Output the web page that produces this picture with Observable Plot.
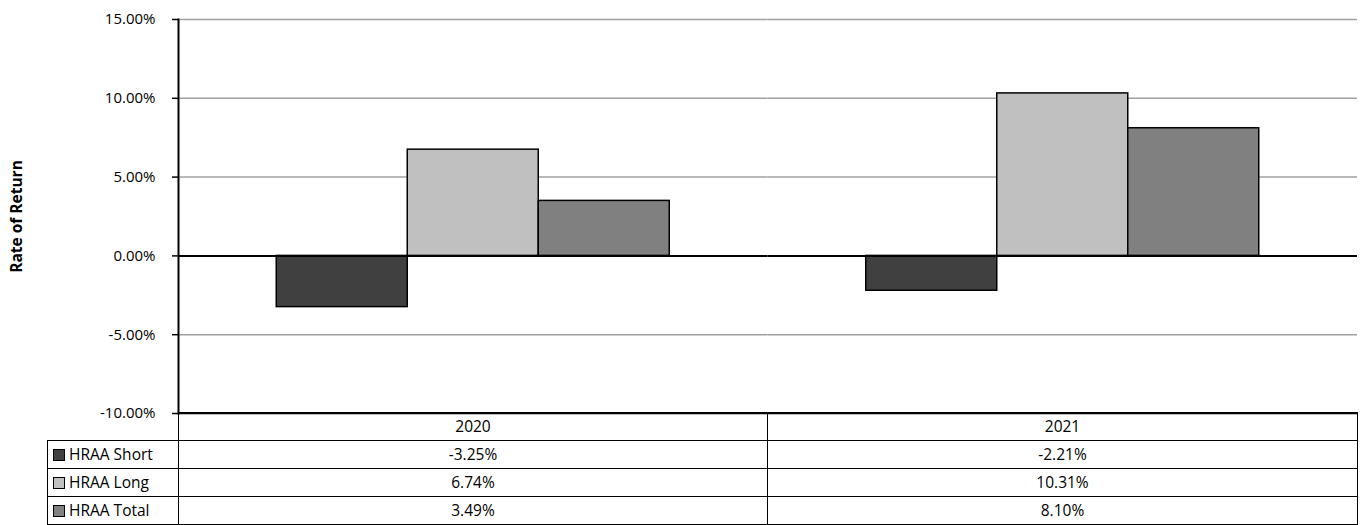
<!DOCTYPE html>
<html>
<head>
<meta charset="utf-8">
<script src="https://cdn.jsdelivr.net/npm/d3@7"></script>
<script src="https://cdn.jsdelivr.net/npm/@observablehq/plot@0.6"></script>
<style>
  html, body { margin: 0; padding: 0; background: #fff; }
  body { font-family: "Open Sans", sans-serif; }
  #wrap { position: relative; width: 1362px; height: 525px; overflow: hidden; }
  #wrap svg { position: absolute; left: 0; top: 0; }
  g[aria-label="y-axis label"] text { font-weight: bold; font-size: 15.5px; }
  table.dt {
    position: absolute; left: 47px; top: 412px;
    border-collapse: collapse; table-layout: fixed;
    font-family: "Open Sans", sans-serif; font-size: 15.5px; color: #000;
  }
  table.dt td { border: 1.5px solid #000; padding: 0; height: 27px; text-align: center; vertical-align: middle; white-space: nowrap; line-height: 1; }
  table.dt td.blank { border: none; }
  table.dt td.lab { text-align: left; padding-left: 5px; }
  .sw { display: inline-block; width: 10px; height: 10px; border: 1px solid #000; margin-right: 4px; vertical-align: -1px; }
</style>
</head>
<body>
<div id="wrap"></div>
<script>
// ---- data ----
const years = ["2020", "2021"];
const series = ["HRAA Short", "HRAA Long", "HRAA Total"];
const shortValues = [-3.25, -2.21];
const longValues = [6.74, 10.31];
const totalValues = [3.49, 8.10];
const yTicks = [-10, -5, 0, 5, 10, 15];
const gridValues = [-5, 5, 10, 15];
const seriesColors = ["#404040", "#c0c0c0", "#808080"];
const yLabel = "Rate of Return";

const valuesBySeries = [shortValues, longValues, totalValues];
const data = [];
years.forEach((yr, i) => {
  series.forEach((s, j) => data.push({year: yr, series: s, value: valuesBySeries[j][i]}));
});
const fmt = d => d.toFixed(2) + "%";

const chart = Plot.plot({
  width: 1362,
  height: 525,
  marginTop: 19,
  marginBottom: 112,
  marginLeft: 178,
  marginRight: 5,
  style: {fontFamily: "Open Sans, sans-serif", fontSize: "15px", color: "#000", background: "transparent"},
  fx: {domain: years, padding: 0, axis: null, round: false},
  x: {domain: series, paddingInner: 0, paddingOuter: 0.75, axis: null, round: false},
  y: {domain: [-10, 15]},
  color: {domain: series, range: seriesColors},
  marks: [
    Plot.ruleY(gridValues, {stroke: "#a0a0a0", strokeWidth: 1.5}),
    Plot.barY(data, {fx: "year", x: "series", y: "value", fill: "series", stroke: "#000", strokeWidth: 1.5}),
    Plot.ruleY([0], {stroke: "#000", strokeWidth: 2}),
    Plot.ruleY([-10], {stroke: "#000", strokeWidth: 1.5}),
    Plot.frame({anchor: "left", facetAnchor: "left", stroke: "#000", strokeWidth: 2}),
    Plot.axisY({
      ticks: yTicks, tickFormat: fmt, tickSize: 6, tickPadding: 17,
      stroke: "#000", strokeWidth: 1.5, strokeOpacity: 1,
      label: yLabel, labelAnchor: "center", labelArrow: "none", labelOffset: 168,
      fontSize: 15
    })
  ]
});
const wrap = document.getElementById("wrap");
wrap.appendChild(chart);

// ---- data table below the chart ----
const table = document.createElement("table");
table.className = "dt";
const cg = document.createElement("colgroup");
[131, 589, 590].forEach(w => { const c = document.createElement("col"); c.style.width = w + "px"; cg.appendChild(c); });
table.appendChild(cg);
const head = document.createElement("tr");
const blank = document.createElement("td"); blank.className = "blank"; head.appendChild(blank);
years.forEach(y => { const td = document.createElement("td"); td.textContent = y; head.appendChild(td); });
table.appendChild(head);
series.forEach((s, j) => {
  const tr = document.createElement("tr");
  const lab = document.createElement("td"); lab.className = "lab";
  const sw = document.createElement("span"); sw.className = "sw"; sw.style.background = seriesColors[j];
  lab.appendChild(sw); lab.appendChild(document.createTextNode(s));
  tr.appendChild(lab);
  years.forEach((y, i) => { const td = document.createElement("td"); td.textContent = fmt(valuesBySeries[j][i]); tr.appendChild(td); });
  table.appendChild(tr);
});
wrap.appendChild(table);
</script>
</body>
</html>
